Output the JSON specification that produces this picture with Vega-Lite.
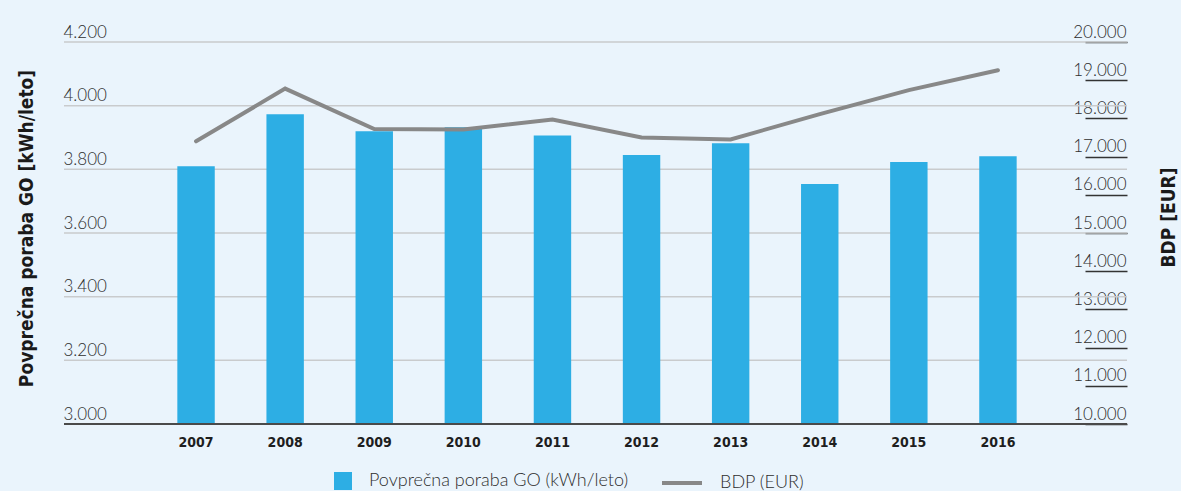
{
  "$schema": "https://vega.github.io/schema/vega-lite/v6.json",
  "width": 1063,
  "height": 382,
  "autosize": {"type": "none"},
  "padding": {"left": 64, "top": 42, "right": 54, "bottom": 67},
  "background": "#eaf4fc",
  "config": {"view": {"stroke": null}, "font": "Lato"},
  "datasets": {
    "main": [
      {"year": "2007", "poraba": 3810, "bdp": 17400},
      {"year": "2008", "poraba": 3973, "bdp": 18780},
      {"year": "2009", "poraba": 3920, "bdp": 17720},
      {"year": "2010", "poraba": 3932, "bdp": 17710},
      {"year": "2011", "poraba": 3906, "bdp": 17970},
      {"year": "2012", "poraba": 3845, "bdp": 17500},
      {"year": "2013", "poraba": 3882, "bdp": 17450},
      {"year": "2014", "poraba": 3754, "bdp": 18110},
      {"year": "2015", "poraba": 3823, "bdp": 18740},
      {"year": "2016", "poraba": 3841, "bdp": 19260}
    ],
    "grid": [
      {"g": 3200}, {"g": 3400}, {"g": 3600}, {"g": 3800}, {"g": 4000}, {"g": 4200}
    ]
  },
  "layer": [
    {
      "data": {"name": "grid"},
      "mark": {"type": "rule", "color": "#c9cbcd", "strokeWidth": 1.5},
      "encoding": {
        "y": {"field": "g", "type": "quantitative", "scale": {"domain": [3000, 4200], "nice": false, "zero": false}, "axis": null},
        "x": {"value": 0},
        "x2": {"value": 1063}
      }
    },
    {
      "data": {"name": "main"},
      "mark": {"type": "bar", "color": "#2daee4"},
      "encoding": {
        "x": {
          "field": "year",
          "type": "ordinal",
          "scale": {"range": [87.5, 978.5], "paddingInner": 0.58, "paddingOuter": 0.29},
          "axis": {
            "title": null,
            "labelAngle": 0,
            "ticks": false,
            "domain": false,
            "labelFont": "DejaVu Sans Condensed",
            "labelFontWeight": "bold",
            "labelFontSize": 14,
            "labelColor": "#1e1e1e",
            "labelPadding": 11,
            "zindex": 1
          }
        },
        "y": {
          "field": "poraba",
          "type": "quantitative",
          "scale": {"domain": [3000, 4200], "nice": false, "zero": false},
          "axis": {
            "title": "Povprečna poraba GO [kWh/leto]",
            "titleFont": "DejaVu Sans Condensed",
            "titleFontWeight": "bold",
            "titleFontSize": 19,
            "titleColor": "#1a1a1a",
            "titleAngle": -90,
            "titleAlign": "center",
            "titleBaseline": "middle",
            "titleX": -38,
            "titleY": 186,
            "values": [3000, 3200, 3400, 3600, 3800, 4000, 4200],
            "format": ",d",
            "labelExpr": "replace(datum.label, ',', '.')",
            "ticks": false,
            "tickSize": 0,
            "domain": false,
            "grid": false,
            "labelAlign": "left",
            "labelBaseline": "alphabetic",
            "labelOffset": -5,
            "labelPadding": 1,
            "labelFlush": false,
            "labelOverlap": false,
            "labelFont": "Lato",
            "labelFontWeight": 300,
            "labelFontSize": 17,
            "labelColor": "#2e2e2e"
          }
        },
        "y2": {"datum": 3000},
        "fill": {
          "datum": "Povprečna poraba GO (kWh/leto)",
          "scale": {"range": ["#2daee4"]},
          "legend": {
            "title": null,
            "orient": "none",
            "legendX": 270,
            "legendY": 430,
            "padding": 0,
            "symbolType": "square",
            "symbolSize": 324,
            "symbolStrokeWidth": 0,
            "labelOffset": 17,
            "labelLimit": 400,
            "labelFont": "Lato",
            "labelFontWeight": 300,
            "labelFontSize": 18,
            "labelColor": "#2e2e2e"
          }
        }
      }
    },
    {
      "data": {"name": "main"},
      "mark": {"type": "rule", "color": "#4a4a4a", "strokeWidth": 2},
      "encoding": {
        "y": {"datum": 3000, "type": "quantitative", "scale": {"domain": [3000, 4200], "nice": false, "zero": false}, "axis": null},
        "x": {"value": 0},
        "x2": {"value": 1063}
      }
    },
    {
      "data": {"name": "main"},
      "mark": {"type": "line", "strokeWidth": 4, "strokeCap": "round", "color": "#888888"},
      "encoding": {
        "x": {"field": "year", "type": "ordinal"},
        "y": {
          "field": "bdp",
          "type": "quantitative",
          "scale": {"domain": [10000, 20000], "nice": false, "zero": false},
          "axis": {
            "orient": "right",
            "title": "BDP [EUR]",
            "titleFont": "DejaVu Sans Condensed",
            "titleFontWeight": "bold",
            "titleFontSize": 19,
            "titleColor": "#1a1a1a",
            "titleAngle": -90,
            "titleAlign": "center",
            "titleBaseline": "middle",
            "titleX": 41,
            "titleY": 175,
            "values": [10000, 11000, 12000, 13000, 14000, 15000, 16000, 17000, 18000, 19000, 20000],
            "format": ",d",
            "labelExpr": "replace(datum.label, ',', '.')",
            "ticks": true,
            "tickSize": -42,
            "tickColor": "#333333",
            "tickWidth": 1.5,
            "domain": false,
            "grid": false,
            "labelAlign": "right",
            "labelBaseline": "alphabetic",
            "labelOffset": -5,
            "labelPadding": 41,
            "labelFlush": false,
            "labelOverlap": false,
            "labelFont": "Lato",
            "labelFontWeight": 300,
            "labelFontSize": 17,
            "labelColor": "#2e2e2e"
          }
        },
        "stroke": {
          "datum": "BDP (EUR)",
          "scale": {"range": ["#888888"]},
          "legend": {
            "title": null,
            "orient": "none",
            "legendX": 596,
            "legendY": 419,
            "padding": 0,
            "symbolType": "stroke",
            "symbolSize": 1600,
            "symbolStrokeWidth": 4,
            "labelOffset": 16,
            "labelLimit": 400,
            "labelFont": "Lato",
            "labelFontWeight": 300,
            "labelFontSize": 18,
            "labelColor": "#2e2e2e"
          }
        }
      }
    }
  ],
  "resolve": {"scale": {"y": "independent"}}
}
